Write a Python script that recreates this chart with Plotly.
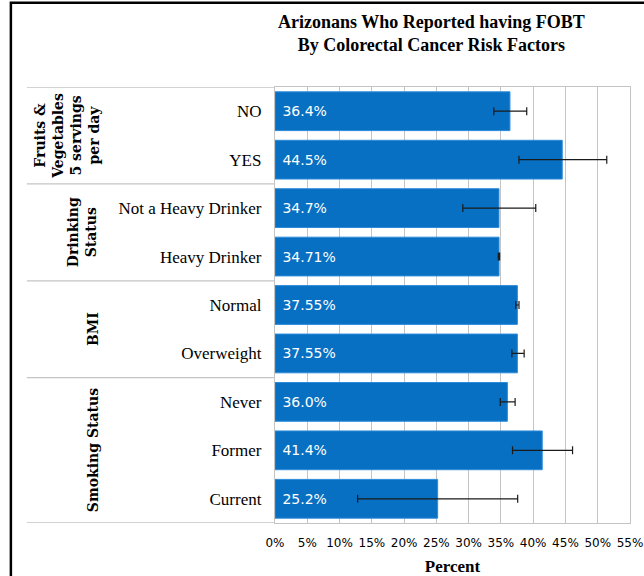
import plotly.graph_objects as go

# data
categories = ["NO", "YES", "Not a Heavy Drinker", "Heavy Drinker", "Normal",
              "Overweight", "Never", "Former", "Current"]
values = [36.4, 44.5, 34.7, 34.71, 37.55, 37.55, 36.0, 41.4, 25.2]
value_labels = ["36.4%", "44.5%", "34.7%", "34.71%", "37.55%", "37.55%",
                "36.0%", "41.4%", "25.2%"]
ci_low = [33.9, 37.8, 29.1, 34.6, 37.3, 36.7, 34.9, 36.8, 12.8]
ci_high = [39.0, 51.4, 40.4, 34.8, 37.8, 38.6, 37.2, 46.1, 37.6]

groups = ["Fruits &<br>Vegetables<br>5 servings<br>per day", "Drinking<br>Status",
          "BMI", "Smoking Status"]
group_centers = [0.5, 2.5, 4.5, 7.0]
group_bounds = [-0.5, 1.5, 3.5, 5.5, 8.5]
x_ticks = list(range(0, 56, 5))

SERIF = "Liberation Serif"
SANS = "DejaVu Sans"
GRID = "#C4C4C4"

fig = go.Figure()
fig.add_trace(
    go.Bar(
        x=values,
        y=categories,
        orientation="h",
        width=0.8,
        marker=dict(color="#0870C2", line=dict(color="#2C8BDA", width=1)),
        text=["\u00a0" + t for t in value_labels],
        textposition="inside",
        insidetextanchor="start",
        textfont=dict(family=SANS, size=14, color="white"),
        error_x=dict(
            type="data",
            symmetric=False,
            array=[h - v for h, v in zip(ci_high, values)],
            arrayminus=[v - l for v, l in zip(values, ci_low)],
            color="#1a1a1a",
            thickness=1.2,
            width=4,
        ),
        cliponaxis=False,
        hoverinfo="skip",
    )
)

# group separator lines on the left
for b in group_bounds:
    fig.add_shape(type="line", xref="paper", yref="y", x0=-0.699, x1=0, y0=b, y1=b,
                  line=dict(color=GRID, width=1.3))

group_x = [-0.585, -0.544, -0.513, -0.513]
for g, c, gx in zip(groups, group_centers, group_x):
    fig.add_annotation(text="<b>" + g + "</b>", x=gx, y=c, xref="paper", yref="y",
                       xanchor="center", yanchor="middle",
                       textangle=-90, showarrow=False,
                       font=dict(family="DejaVu Serif", size=14, color="black"))

# title as annotation so both lines sit where they should
fig.add_annotation(
    text="<b>Arizonans Who Reported having FOBT<br>By Colorectal Cancer Risk Factors</b>",
    x=0.442, y=1.1227, xref="paper", yref="paper", xanchor="center", yanchor="middle",
    showarrow=False, font=dict(family=SERIF, size=18, color="black"),
)

# outer chart frame
fig.add_shape(type="rect", xref="paper", yref="paper", x0=-0.744, x1=1.2,
              y0=-0.3, y1=1.193, line=dict(color="black", width=2.5))

fig.update_layout(
    width=644,
    height=576,
    margin=dict(l=275, r=14, t=87, b=53),
    paper_bgcolor="white",
    plot_bgcolor="white",
    showlegend=False,
    xaxis=dict(
        automargin=False,
        range=[0, 55],
        tickvals=x_ticks,
        ticktext=[f"{t}%" for t in x_ticks],
        tickfont=dict(family=SANS, size=12, color="black"),
        showgrid=True,
        gridcolor=GRID,
        gridwidth=1.3,
        showline=True,
        linecolor=GRID,
        linewidth=1.3,
        mirror=True,
        zeroline=False,
        ticks="",
        ticklabelstandoff=8,
        title=dict(text="<b>Percent</b>", font=dict(family=SERIF, size=17, color="black"),
                   standoff=13),
    ),
    yaxis=dict(
        automargin=False,
        categoryorder="array",
        categoryarray=categories,
        range=[8.5, -0.5],
        tickfont=dict(family=SERIF, size=17, color="black"),
        showgrid=False,
        showline=True,
        linecolor=GRID,
        linewidth=1.3,
        mirror=True,
        ticks="",
        ticklabelstandoff=9,
    ),
    bargap=0.2,
)

# drop the page's default body margin so the figure fills the window
fig.write_html("out.html", config={"displayModeBar": False},
               post_script="document.body.style.margin='0';")
